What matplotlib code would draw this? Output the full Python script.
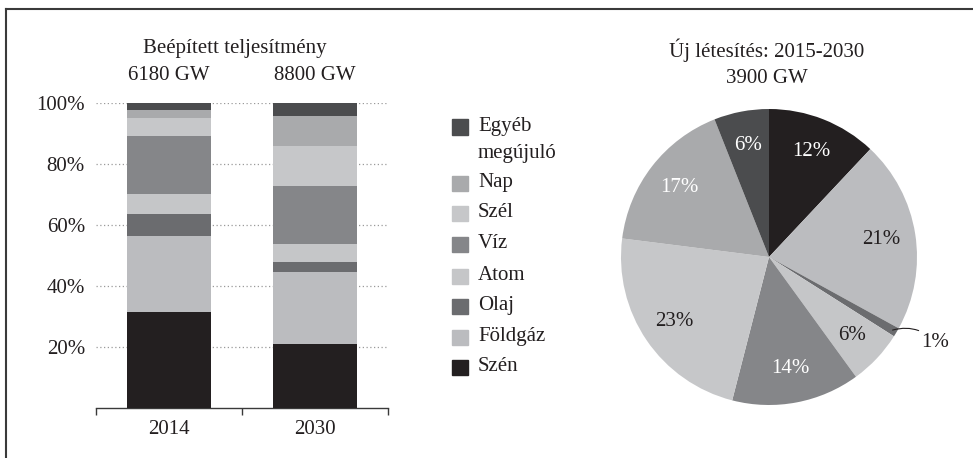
import numpy as np
import matplotlib.pyplot as plt
from matplotlib.patches import Rectangle
from matplotlib.lines import Line2D

plt.rcParams['font.family'] = ['Liberation Serif', 'DejaVu Serif']

# adatok
categories = ['Szén', 'Földgáz', 'Olaj', 'Atom', 'Víz', 'Szél', 'Nap', 'Egyéb\nmegújuló']
years = ['2014', '2030']
totals = ['6180 GW', '8800 GW']
share_2014 = [31.5, 24.9, 7.2, 6.6, 19.1, 6.0, 2.5, 2.2]
share_2030 = [20.8, 23.7, 3.3, 5.9, 19.1, 13.2, 9.8, 4.2]
new_share = [12, 21, 1, 6, 14, 23, 17, 6]
colors = ['#231f20', '#bbbcbf', '#6b6c6f', '#c5c6c8', '#858689', '#c6c7c9', '#a9aaac', '#4b4c4e']
txt = '#231f20'
fs = 15

W, H = 973, 458
fig = plt.figure(figsize=(W / 100, H / 100), dpi=100)

def box(l, t, r, b):
    # pixel -> figure koordináta
    return [l / W, 1 - b / H, (r - l) / W, (b - t) / H]

# keret (bal és felső vonal)
fig.add_artist(Line2D([6 / W, 6 / W], [0, 1 - 9 / H], color='#3a3a3a', lw=1.5))
fig.add_artist(Line2D([6 / W, 1], [1 - 9 / H, 1 - 9 / H], color='#3a3a3a', lw=1.5))

# oszlopdiagram
ax = fig.add_axes(box(96, 103.3, 388, 407.5))
bottom = [0, 0]
for i, cat in enumerate(categories):
    vals = [share_2014[i], share_2030[i]]
    ax.bar([0, 1], vals, bottom=bottom, width=0.575, color=colors[i], zorder=3)
    bottom = [bottom[0] + vals[0], bottom[1] + vals[1]]

ax.set_xlim(-0.5, 1.5)
ax.set_ylim(0, 100)
ax.set_yticks([20, 40, 60, 80, 100])
ax.set_yticklabels(['20%', '40%', '60%', '80%', '100%'], fontsize=fs, color=txt)
ax.tick_params(axis='y', length=0, pad=8)
ax.yaxis.grid(True, linestyle=(0, (1, 2)), color='#9a9a9a', lw=0.9, zorder=0)
ax.set_xticks([-0.5, 0.5, 1.5])
ax.set_xticklabels([])
ax.tick_params(axis='x', which='major', direction='out', length=5, width=1, color='#3a3a3a')
ax.set_xticks([0, 1], minor=True)
ax.set_xticklabels(years, minor=True, fontsize=fs, color=txt)
ax.tick_params(axis='x', which='minor', length=0, pad=9)
for s in ['top', 'right', 'left']:
    ax.spines[s].set_visible(False)
ax.spines['bottom'].set_color('#3a3a3a')
ax.spines['bottom'].set_linewidth(1)

fig.text(235 / W, 1 - 48 / H, 'Beépített teljesítmény', ha='center', va='center', fontsize=fs, color=txt)
for x, t in zip([169, 315], totals):
    fig.text(x / W, 1 - 76 / H, t, ha='center', va='center', fontsize=fs, color=txt)

# jelmagyarázat
leg_y = [367, 337, 306, 276, 244, 213, 183, 127]
for i, cat in enumerate(categories):
    y = leg_y[i]
    fig.add_artist(Rectangle((452 / W, 1 - (y + 7.5) / H), 16 / W, 15 / H,
                             transform=fig.transFigure, color=colors[i]))
    fig.text(478 / W, 1 - (y - 10) / H, cat, ha='left', va='top', fontsize=fs,
             color=txt, linespacing=1.6)

# kördiagram
pax = fig.add_axes(box(769 - 185, 257 - 185, 769 + 185, 257 + 185))
wedges, texts, autotexts = pax.pie(new_share, colors=colors, startangle=90, counterclock=False,
                                   autopct='%d%%', pctdistance=0.77,
                                   textprops={'fontsize': fs, 'color': txt})
pax.set_xlim(-1.25, 1.25)
pax.set_ylim(-1.25, 1.25)
for i, t in enumerate(autotexts):
    if i in (0, 4, 6, 7):
        t.set_color('white')
# 1% felirat kívül
autotexts[2].set_visible(False)
ang = np.deg2rad((wedges[2].theta1 + wedges[2].theta2) / 2)
pax.annotate('1%', xy=(0.97 * np.cos(ang), 0.97 * np.sin(ang)), xytext=(1.03, -0.575),
             ha='left', va='center', fontsize=fs, color=txt,
             arrowprops=dict(arrowstyle='-', color=txt, lw=0.8,
                             connectionstyle='arc3,rad=0.3', shrinkA=0, shrinkB=0))

fig.text(767 / W, 1 - 50 / H, 'Új létesítés: 2015-2030', ha='center', va='center', fontsize=fs, color=txt)
fig.text(767 / W, 1 - 78 / H, '3900 GW', ha='center', va='center', fontsize=fs, color=txt)

fig.savefig('out.png', dpi=100)
